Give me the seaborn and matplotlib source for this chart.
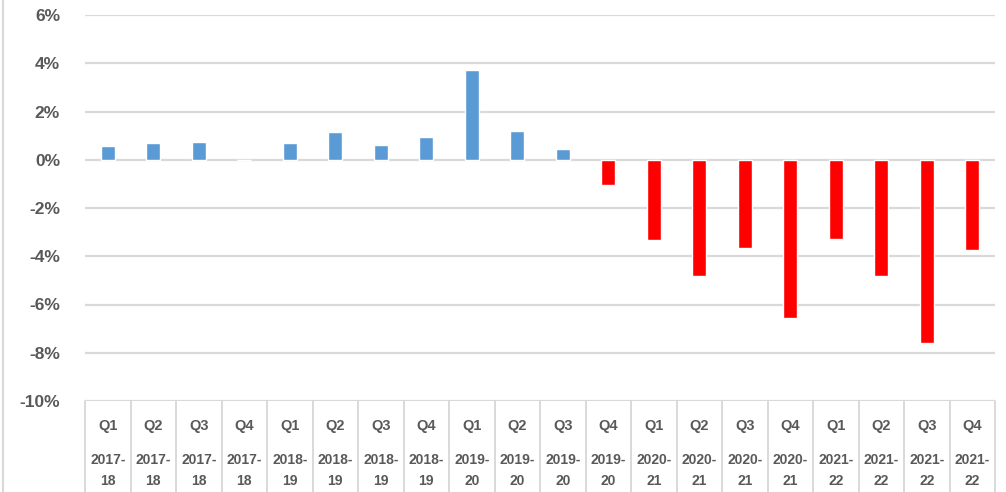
import numpy as np
import pandas as pd
import matplotlib
matplotlib.use("Agg")
import matplotlib.pyplot as plt
import matplotlib.ticker as mticker
from matplotlib.lines import Line2D
import seaborn as sns

quarters = ["Q1", "Q2", "Q3", "Q4"] * 5
years = ["2017-\n18"] * 4 + ["2018-\n19"] * 4 + ["2019-\n20"] * 4 + ["2020-\n21"] * 4 + ["2021-\n22"] * 4
values = [0.58, 0.68, 0.73, 0.0, 0.68, 1.17, 0.62, 0.94, 3.72, 1.20,
          0.46, -1.04, -3.33, -4.81, -3.65, -6.54, -3.29, -4.81, -7.60, -3.75]

df = pd.DataFrame({
    "period": [f"{q} {y}" for q, y in zip(quarters, years)],
    "value": values,
})
df["sign"] = np.where(df["value"] >= 0, "pos", "neg")

sns.set_theme(style="white")
plt.rcParams['font.family'] = ['Liberation Sans', 'DejaVu Sans']

fig = plt.figure(figsize=(10.06, 4.92), dpi=100)
ax = fig.add_axes([85 / 1006, (492 - 401) / 492, 910 / 1006, 386 / 492])

sns.barplot(data=df, x="period", y="value", hue="sign", dodge=False,
            palette={"pos": "#5B9BD5", "neg": "#FF0000"}, width=0.3,
            legend=False, ax=ax, saturation=1)

ax.set_ylim(-10, 6)
ax.set_xlim(-0.5, len(values) - 0.5)
ax.yaxis.set_major_locator(mticker.MultipleLocator(2))
ax.yaxis.set_major_formatter(mticker.FuncFormatter(lambda v, p: f"{v:.0f}%"))
ax.grid(axis="y", color="#d9d9d9", linewidth=1.6)
ax.set_axisbelow(True)
for s in ax.spines.values():
    s.set_visible(False)
ax.tick_params(axis="y", length=0, pad=18, labelsize=12.5, labelcolor="#595959")
for lbl in ax.get_yticklabels():
    lbl.set_fontweight("bold")
ax.set_xlabel("")
ax.set_ylabel("")
ax.set_xticks([])

# category table below the plot
trans = ax.get_xaxis_transform()
for i in range(len(values) + 1):
    ax.plot([i - 0.5, i - 0.5], [0, -0.25], transform=trans, color="#d9d9d9",
            linewidth=1.4, clip_on=False)
for i, (q, y) in enumerate(zip(quarters, years)):
    ax.text(i, -0.066, q, transform=trans, ha="center", va="center",
            fontsize=10.5, color="#595959", fontweight="bold")
    ax.text(i, -0.18, y, transform=trans, ha="center", va="center",
            fontsize=10, color="#595959", linespacing=1.6, fontweight="bold")

fig.add_artist(Line2D([2.5 / 1006, 2.5 / 1006], [0, 1], color="#d9d9d9", linewidth=1.5))

fig.savefig("out.png", dpi=100)
